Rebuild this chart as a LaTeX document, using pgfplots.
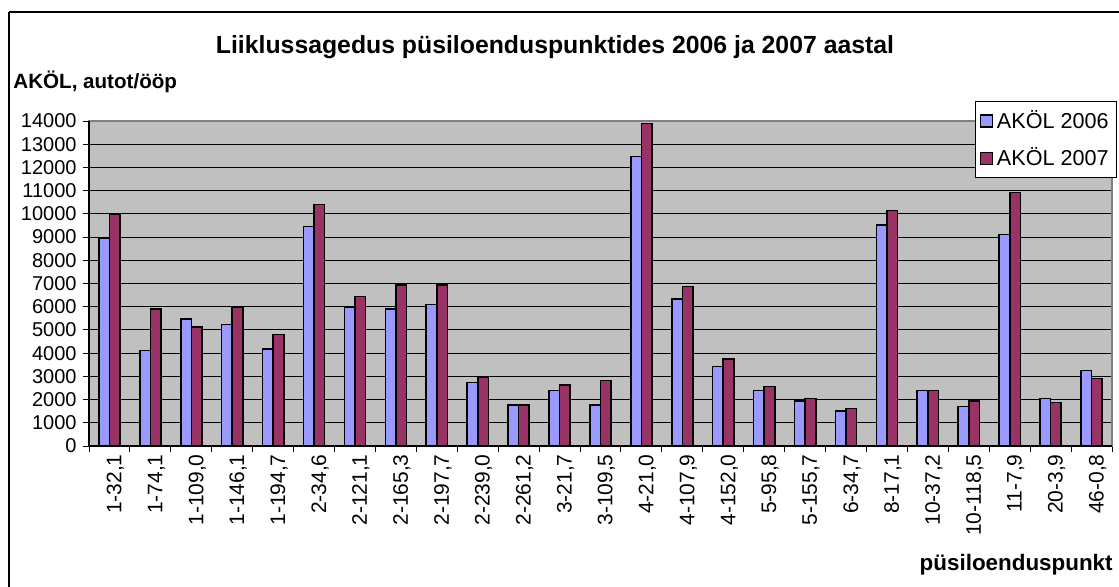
\documentclass[border=0pt]{standalone}
\usepackage{fontspec}
\setmainfont{Liberation Sans}
\usepackage{pgfplots}
\pgfplotsset{compat=1.18}
\definecolor{cblue}{HTML}{9999FF}
\definecolor{cred}{HTML}{993366}
\definecolor{plotbg}{HTML}{C0C0C0}
\begin{document}
\begin{tikzpicture}
\path[use as bounding box] (0pt,0pt) rectangle (559.5pt,-293pt);
\draw[line width=1pt] (4.5pt,-6pt) -- (565pt,-6pt);
\draw[line width=1pt] (4.5pt,-6pt) -- (4.5pt,-300pt);
\begin{axis}[
  at={(44.5pt,-223pt)}, anchor=south west,
  scale only axis, width=511.5pt, height=162.5pt,
  xmin=-0.5, xmax=24.5, ymin=0, ymax=14000,
  ybar=0pt, bar width=5.3pt,
  axis background/.style={fill=plotbg},
  axis line style={draw=gray, line width=0.6pt},
  ymajorgrids, grid style={black, line width=0.5pt},
  ytick={0,1000,...,14000},
  scaled y ticks=false,
  xtick={0,...,24},
  xticklabels={1-32{,}1,1-74{,}1,1-109{,}0,1-146{,}1,1-194{,}7,2-34{,}6,2-121{,}1,2-165{,}3,2-197{,}7,2-239{,}0,2-261{,}2,3-21{,}7,3-109{,}5,4-21{,}0,4-107{,}9,4-152{,}0,5-95{,}8,5-155{,}7,6-34{,}7,8-17{,}1,10-37{,}2,10-118{,}5,11-7{,}9,20-3{,}9,46-0{,}8},
  minor xtick={-0.5,0.5,...,24.5},
  major x tick style={draw=none},
  minor x tick style={black, line width=0.5pt},
  y tick style={black, line width=0.5pt},
  tick align=outside, major tick length=3pt, minor tick length=3pt,
  xtick pos=bottom, ytick pos=left,
  /pgf/number format/assume math mode=true,
  /pgf/number format/1000 sep={},
  yticklabel style={font=\fontsize{10}{10}\selectfont, inner sep=1pt, xshift=-2pt},
  xticklabel style={font=\fontsize{10.5}{10}\selectfont, rotate=90, anchor=east, inner sep=1pt, yshift=-3pt},
  legend style={at={(axis description cs:1.005,1.0615)}, anchor=north east,
    draw=black, line width=0.5pt, fill=white,
    font=\fontsize{10.8}{11}\selectfont, inner xsep=2pt, inner ysep=2.5pt,
    row sep=4pt, cells={anchor=west}},
  legend image code/.code={\draw[#1, line width=0.6pt] (0pt,-3pt) rectangle (6pt,3pt);},
  clip=false,
]
\addplot[draw=black, line width=0.8pt, fill=cblue] coordinates {
(0,8940) (1,4110) (2,5470) (3,5230) (4,4180) (5,9450) (6,5990) (7,5910) (8,6090) (9,2730) (10,1770) (11,2390) (12,1770) (13,12470) (14,6340) (15,3420) (16,2390) (17,1940) (18,1520) (19,9530) (20,2390) (21,1700) (22,9110) (23,2040) (24,3250)};
\addplot[draw=black, line width=0.8pt, fill=cred] coordinates {
(0,9970) (1,5900) (2,5130) (3,5990) (4,4800) (5,10400) (6,6440) (7,6940) (8,6940) (9,2970) (10,1770) (11,2630) (12,2820) (13,13900) (14,6870) (15,3750) (16,2560) (17,2040) (18,1610) (19,10140) (20,2390) (21,1940) (22,10920) (23,1870) (24,2900)};
\legend{AKÖL 2006, AKÖL 2007}
\draw[black, line width=0.6pt] (rel axis cs:0,1) -- (rel axis cs:0,0) -- (rel axis cs:1,0);
\end{axis}
\node[font=\bfseries\fontsize{12.4}{14}\selectfont] at (277.5pt,-23.5pt) {Liiklussagedus püsiloenduspunktides 2006 ja 2007 aastal};
\node[font=\bfseries\fontsize{10.3}{12}\selectfont, anchor=west, inner sep=0pt] at (6.5pt,-41pt) {AKÖL, autot/ööp};
\node[font=\bfseries\fontsize{11.2}{12}\selectfont, anchor=east, inner sep=0pt] at (556.5pt,-282.5pt) {püsiloenduspunkt};
\end{tikzpicture}
\end{document}
